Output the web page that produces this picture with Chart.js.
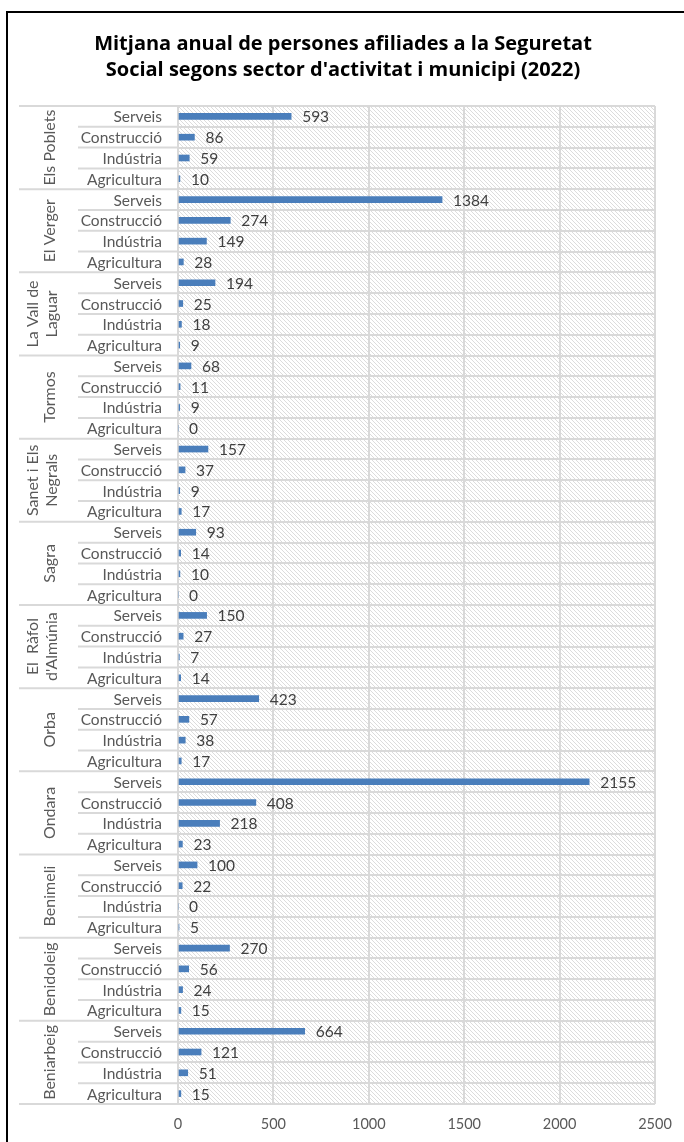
<!DOCTYPE html>
<html>
<head>
<meta charset="utf-8">
<script src="https://cdn.jsdelivr.net/npm/chart.js@4/dist/chart.umd.min.js"></script>
<style>
  html, body { margin: 0; padding: 0; background: #fff; }
  #wrap { position: relative; width: 684px; height: 1142px; overflow: hidden; }
  #frame { position: absolute; left: 6px; top: 11px; width: 760px; height: 1200px;
           border: 2px solid #000; pointer-events: none; }
  canvas { position: absolute; left: 0; top: 0; }
</style>
</head>
<body>
<div id="wrap">
  <canvas id="chart" width="684" height="1142"></canvas>
  <div id="frame"></div>
</div>
<script>
const municipis = [
  ['Els Poblets'], ['El Verger'], ['La Vall de', 'Laguar'], ['Tormos'],
  ['Sanet i Els', 'Negrals'], ['Sagra'], ['El  Ràfol', "d'Almúnia"], ['Orba'],
  ['Ondara'], ['Benimeli'], ['Benidoleig'], ['Beniarbeig']
];
const sectors = ['Serveis', 'Construcció', 'Indústria', 'Agricultura'];
const serveis     = [593, 1384, 194, 68, 157, 93, 150, 423, 2155, 100, 270, 664];
const construccio = [86, 274, 25, 11, 37, 14, 27, 57, 408, 22, 56, 121];
const industria   = [59, 149, 18, 9, 9, 10, 7, 38, 218, 0, 24, 51];
const agricultura = [10, 28, 9, 0, 17, 0, 14, 17, 23, 5, 15, 15];
const xTicks = [0, 500, 1000, 1500, 2000, 2500];

const titol = [
  'Mitjana anual de persones afiliades a la Seguretat',
  "Social segons sector d'activitat i municipi (2022)"
];

// one row per municipi + sector
const labels = [];
const values = [];
municipis.forEach((m, i) => {
  const vals = [serveis[i], construccio[i], industria[i], agricultura[i]];
  sectors.forEach((s, k) => {
    labels.push(s);
    values.push(vals[k]);
  });
});

const FONT = 'Lato, "Open Sans", sans-serif';
const GRID = '#d9d9d9';
const TEXT = '#595959';

function hatchPattern(ctx) {
  const c = document.createElement('canvas');
  c.width = 4; c.height = 4;
  const p = c.getContext('2d');
  p.fillStyle = '#fff';
  p.fillRect(0, 0, 4, 4);
  p.strokeStyle = '#dcdcdc';
  p.lineWidth = 1;
  p.beginPath();
  p.moveTo(-1, -1); p.lineTo(5, 5);
  p.moveTo(-1, 3); p.lineTo(1, 5);
  p.moveTo(3, -1); p.lineTo(5, 1);
  p.stroke();
  return ctx.createPattern(c, 'repeat');
}

const hatchBg = {
  id: 'hatchBg',
  beforeDraw(chart) {
    const { ctx, chartArea: a } = chart;
    ctx.save();
    ctx.fillStyle = '#fff';
    ctx.fillRect(0, 0, chart.width, chart.height);
    ctx.fillStyle = hatchPattern(ctx);
    ctx.fillRect(a.left, a.top, a.right - a.left, a.bottom - a.top);
    // title, centred on the whole canvas
    ctx.fillStyle = '#000';
    ctx.font = 'bold 20px "Open Sans", sans-serif';
    ctx.textAlign = 'center';
    ctx.textBaseline = 'alphabetic';
    ctx.fillText(titol[0], 343, 50);
    ctx.fillText(titol[1], 343, 76);
    ctx.restore();
  }
};

const groupAxis = {
  id: 'groupAxis',
  afterDraw(chart) {
    const { ctx, chartArea: a } = chart;
    const y = chart.scales.y;
    const n = labels.length;
    ctx.save();
    // separators to the left of the plot
    ctx.strokeStyle = GRID;
    ctx.lineWidth = 2;
    for (let j = 0; j <= n; j++) {
      let py;
      if (j === 0) py = a.top;
      else if (j === n) py = a.bottom;
      else py = (y.getPixelForValue(j - 1) + y.getPixelForValue(j)) / 2;
      const x0 = j % 4 === 0 ? 19 : 78;
      ctx.beginPath();
      ctx.moveTo(x0, py);
      ctx.lineTo(a.left, py);
      ctx.stroke();
    }
    // sector labels
    ctx.fillStyle = TEXT;
    ctx.font = '15.5px ' + FONT;
    ctx.textAlign = 'right';
    ctx.textBaseline = 'middle';
    labels.forEach((l, i) => ctx.fillText(l, 162, y.getPixelForValue(i) + 1));
    // municipi labels, rotated
    ctx.font = '16px ' + FONT;
    ctx.textAlign = 'center';
    municipis.forEach((m, g) => {
      const cy = (y.getPixelForValue(g * 4) + y.getPixelForValue(g * 4 + 3)) / 2;
      const xs = m.length === 1 ? [50] : [33, 52];
      m.forEach((line, k) => {
        ctx.save();
        ctx.translate(xs[k], cy);
        ctx.rotate(-Math.PI / 2);
        ctx.fillText(line, 0, 0);
        ctx.restore();
      });
    });
    ctx.restore();
  },
  afterDatasetsDraw(chart) {
    const { ctx } = chart;
    const meta = chart.getDatasetMeta(0);
    ctx.save();
    ctx.fillStyle = '#404040';
    ctx.font = '15.5px ' + FONT;
    ctx.textAlign = 'left';
    ctx.textBaseline = 'middle';
    meta.data.forEach((bar, i) => {
      ctx.fillText(String(values[i]), bar.x + 11, bar.y + 1);
    });
    ctx.restore();
  }
};

new Chart(document.getElementById('chart'), {
  type: 'bar',
  data: {
    labels: labels,
    datasets: [{
      data: values,
      backgroundColor: '#4a7ebb',
      barThickness: 6
    }]
  },
  options: {
    indexAxis: 'y',
    responsive: false,
    animation: false,
    layout: { padding: { left: 178, right: 29, top: 106, bottom: 0 } },
    plugins: {
      legend: { display: false },
      tooltip: { enabled: false },
      title: { display: false }
    },
    scales: {
      x: {
        min: 0,
        max: 2500,
        afterBuildTicks: (s) => { s.ticks = xTicks.map(v => ({ value: v })); },
        afterFit: (s) => { s.height = 38; },
        grid: { color: GRID, lineWidth: 2, drawTicks: false },
        border: { display: false },
        ticks: {
          color: TEXT,
          font: { family: FONT, size: 14.5 },
          padding: 12,
          callback: (v) => String(v)
        }
      },
      y: {
        grid: { color: GRID, lineWidth: 2, drawTicks: false, offset: true },
        border: { display: false },
        ticks: { display: false }
      }
    }
  },
  plugins: [hatchBg, groupAxis]
});
</script>
</body>
</html>
